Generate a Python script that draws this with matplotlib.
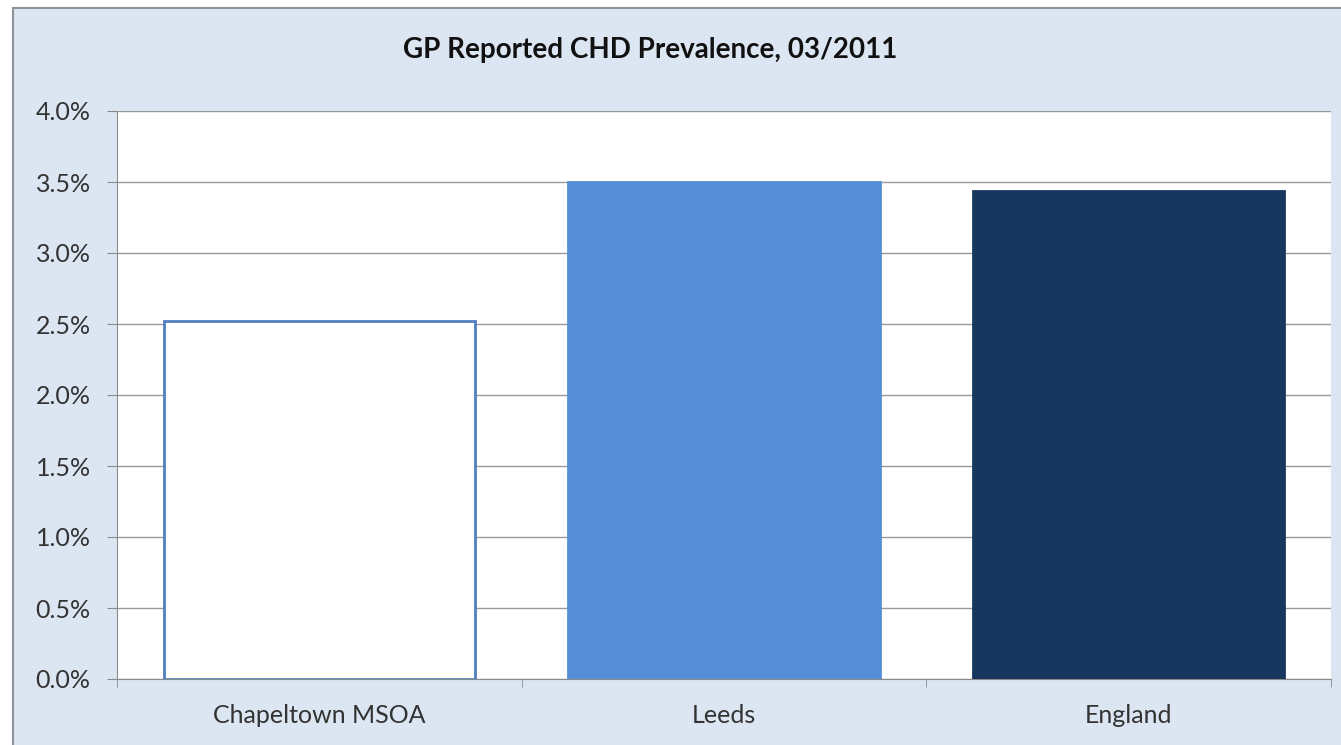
import matplotlib
matplotlib.use("Agg")
import matplotlib.pyplot as plt
from matplotlib.patches import Rectangle
from matplotlib.ticker import FuncFormatter, FixedLocator

# datos
areas = ["Chapeltown MSOA", "Leeds", "England"]
prevalencia = [2.52, 3.50, 3.44]   # en %
colores = ["white", "#558ed5", "#17375e"]
bordes = ["#4f7fbd", "#558ed5", "#17375e"]

plt.rcParams['font.family'] = ['Lato', 'DejaVu Sans']

fig = plt.figure(figsize=(13.41, 7.45), dpi=100)
fig.patch.set_facecolor("white")

# marco del grafico (fondo celeste)
fondo = Rectangle((13/1341, -0.05), 1.1, 1.05 - 8/745, transform=fig.transFigure,
                  facecolor="#dce6f2", edgecolor="#8c9399", linewidth=1.5, zorder=-10)
fig.patches.append(fondo)

ax = fig.add_axes([117/1341, 1 - 679/745, (1331 - 117)/1341, (679 - 111)/745])
ax.set_facecolor("white")

x = range(len(areas))
ax.bar(x, prevalencia, width=0.77, color=colores, edgecolor=bordes, linewidth=2, zorder=3)

ax.set_xlim(-0.5, 2.5)
ax.set_ylim(0, 4.0)
ax.set_yticks([i * 0.5 for i in range(9)])
ax.yaxis.set_major_formatter(FuncFormatter(lambda v, p: "%.1f%%" % v))
ax.grid(axis='y', color="#999999", linewidth=1, zorder=0)

ax.set_xticks(list(x))
ax.set_xticklabels(areas)
ax.tick_params(axis='x', length=0, pad=18, labelsize=18, colors="#333333")
ax.xaxis.set_minor_locator(FixedLocator([-0.5, 0.5, 1.5, 2.5]))
ax.tick_params(axis='x', which='minor', length=6, color="#8a8a8a")
ax.tick_params(axis='y', length=7, color="#8a8a8a", labelsize=18, labelcolor="#333333", pad=12)

for lado in ["top", "right"]:
    ax.spines[lado].set_visible(False)
ax.spines["left"].set_color("#8a8a8a")
ax.spines["bottom"].set_color("#8a8a8a")

fig.text(650/1341, 1 - 50/745, "GP Reported CHD Prevalence, 03/2011",
         ha="center", va="center", fontsize=20, fontweight="bold", color="#111111")

fig.savefig("out.png", dpi=100)
